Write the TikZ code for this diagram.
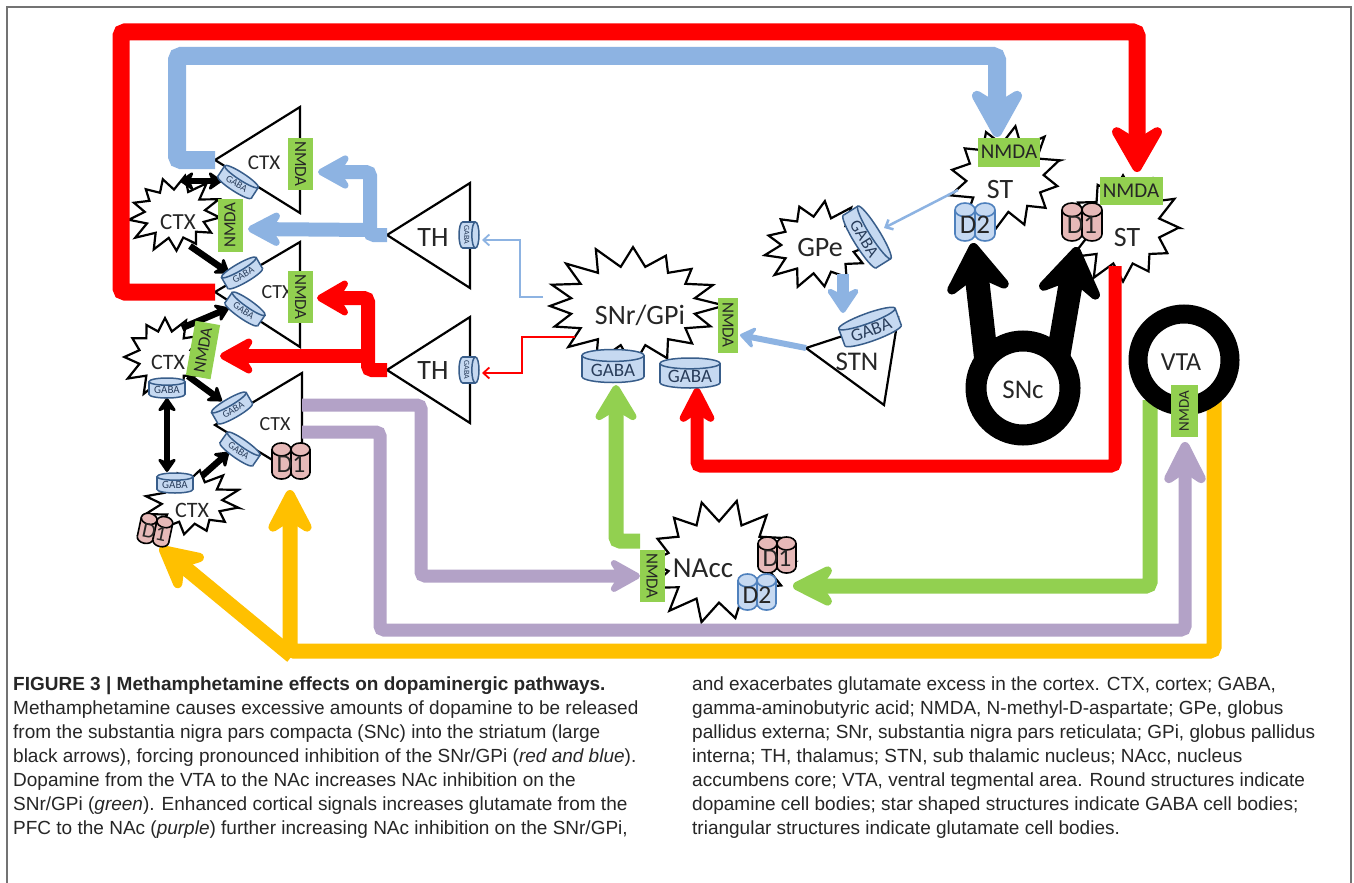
\documentclass[tikz,border=0pt]{standalone}
\usepackage{fontspec}
\setmainfont{Carlito}
\newfontfamily\capfont{Liberation Sans}
\usepackage{graphicx}
\usetikzlibrary{arrows.meta}
\definecolor{cred}{RGB}{255,0,0}
\definecolor{cblue}{RGB}{141,179,226}
\definecolor{cgreen}{RGB}{146,208,80}
\definecolor{cpurple}{RGB}{179,162,199}
\definecolor{cyellow}{RGB}{255,192,0}
\definecolor{gabafill}{RGB}{198,217,241}
\definecolor{gabadraw}{RGB}{56,93,138}
\definecolor{gabatext}{RGB}{40,60,90}
\definecolor{d1fill}{RGB}{230,185,184}
\definecolor{d2draw}{RGB}{79,129,189}
\tikzset{
 lbl/.style={text=black!85, inner sep=0pt, font=\fontsize{#1}{#1}\selectfont},
 tri/.style={draw=black, line width=2.2pt, fill=white, line join=miter},
 burstline/.style={draw=black, line width=2.2pt, fill=white, line join=miter, miter limit=20},
 nmda/.style={fill=cgreen, inner sep=0pt, text=black!85, font=\fontsize{#1}{#1}\selectfont},
 conn/.style={line width=#1, rounded corners=4pt},
 ahd/.style n args={3}{-{Stealth[length=#1pt,width=#2pt,inset=#3pt,round]}},
 ahdtwo/.style n args={3}{{Stealth[length=#1pt,width=#2pt,inset=#3pt,round]}-{Stealth[length=#1pt,width=#2pt,inset=#3pt,round]}},
 thinhead/.style={-{Straight Barb[length=6pt,width=11pt]}},
 cylG/.style={gabadraw, fill=gabafill},
 cylDtwo/.style={d2draw, fill=gabafill},
 cylDone/.style={black, fill=d1fill},
 captxt/.style={anchor=base west, inner sep=0pt, font=\capfont\fontsize{19}{19}\selectfont, text=black!85},
}
% star burst: cx cy rx ry n ratio phase
\newcommand\burst[7]{%
 \pgfmathtruncatemacro\bN{2*#5}%
 \pgfmathtruncatemacro\bS{2*#5+1}%
 \draw[burstline] plot[domain=0:\bN, samples=\bS, variable=\k]
   ({#1+#3*(1-(1-#6)*mod(round(\k),2))*(1+0.08*(1-mod(round(\k),2))*sin(\k*151))*cos(\k*180/#5+#7)},
    {#2+#4*(1-(1-#6)*mod(round(\k),2))*(1+0.08*(1-mod(round(\k),2))*sin(\k*151))*sin(\k*180/#5+#7)}) -- cycle;%
}
% cylinder: cx cy w h style
\newcommand\cylshape[5]{%
 \pgfmathsetmacro\cw{#3/2}\pgfmathsetmacro\ch{#4/2}\pgfmathsetmacro\ce{#4*0.18}%
 \pgfmathsetmacro\ctop{#2-\ch+\ce}\pgfmathsetmacro\cbot{#2+\ch-\ce}%
 \pgfmathsetmacro\cl{#1-\cw}\pgfmathsetmacro\cri{#1+\cw}%
 \filldraw[#5] (#1,\cbot) ellipse[x radius=\cw, y radius=\ce];
 \fill[#5] (\cl,\ctop) rectangle (\cri,\cbot);
 \draw[#5] (\cl,\ctop) -- (\cl,\cbot) (\cri,\ctop) -- (\cri,\cbot);
 \filldraw[#5] (#1,\ctop) ellipse[x radius=\cw, y radius=\ce];
}
% GABA: name x y angle w h fontsize
\newcommand\gaba[7]{%
 \begin{scope}[shift={(#2,#3)}, rotate=#4, line width=1.5pt]
 \cylshape{0}{0}{#5}{#6}{cylG}
 \pgfmathsetmacro\gofs{#6*0.12}
 \node[rotate=#4, text=gabatext, inner sep=0pt, font=\fontsize{#7}{#7}\selectfont] (#1) at (0,\gofs) {GABA};
 \end{scope}}
% dimer receptor: name x y angle scale style text
\newcommand\dimer[7]{%
 \begin{scope}[shift={(#2,#3)}, rotate=#4, scale=#5, line width=1.6pt]
 \cylshape{-10}{0}{20}{38}{#6}
 \cylshape{10}{0}{20}{38}{#6}
 \pgfmathsetmacro\dfs{27*#5}
 \node[rotate=#4, text=black!85, inner sep=0pt, font=\fontsize{\dfs}{\dfs}\selectfont] (#1) at (0,3) {#7};
 \end{scope}}
\begin{document}
\begin{tikzpicture}[x=1pt,y=-1pt]
\useasboundingbox (0,0) rectangle (1354,883);
\fill[white] (0,0) rectangle (1354,883);
\draw[line width=1.3pt, black!55] (7,883) -- (7,7) -- (1351,7) -- (1351,883);

% triangles (glutamate cells)
\draw[tri] (215,160) -- (300,107) -- (300,213) -- cycle;
\draw[tri] (215,292) -- (300,242) -- (300,347) -- cycle;
\draw[tri] (215,425) -- (302,373) -- (302,478) -- cycle;
\draw[tri] (387,235) -- (470,183) -- (470,288) -- cycle;
\draw[tri] (387,370) -- (470,317) -- (470,423) -- cycle;
\draw[tri] (806,348) -- (898,318) -- (884,405) -- cycle;

% stars (GABA cells)
\burst{175}{214}{46}{37}{13}{0.66}{5}
\burst{165}{357}{40}{40}{12}{0.66}{0}
\burst{192}{502}{46}{33}{12}{0.66}{10}
\burst{633}{306}{90}{57}{16}{0.7}{0}
\burst{1005}{178}{57}{50}{12}{0.68}{340}
\burst{1123}{228}{55}{54}{12}{0.68}{0}
\burst{818}{245}{54}{42}{13}{0.68}{0}
\burst{719}{562}{74}{58}{14}{0.7}{0}

% connectors
\draw[cred, conn=17pt, ahd={58}{66}{20}] (215,292) -- (121,292) -- (121,32) -- (1137,32) -- (1137,172);
\draw[cblue, conn=18pt, ahd={60}{66}{20}] (215,160) -- (177,160) -- (177,56) -- (997,56) -- (997,137);
\draw[cblue, conn=14pt, ahd={40}{44}{14}] (387,235) -- (370,235) -- (370,172) -- (318,172);
\draw[cblue, conn=14pt, ahd={42}{44}{14}] (370,230) -- (248,229);
\draw[cred, conn=14pt, ahd={40}{46}{14}] (387,370) -- (368,370) -- (368,298) -- (317,298);
\draw[cred, conn=14pt, ahd={42}{46}{14}] (368,356) -- (220,356);
\draw[cblue, line width=1.8pt, thinhead] (543,297) -- (520,297) -- (520,240) -- (482,240);
\draw[cred, line width=1.8pt, thinhead] (575,337) -- (522,337) -- (522,373) -- (482,373);
\draw[cblue, line width=2.5pt, thinhead] (958,190) -- (884,228);
\draw[cblue, line width=12pt, ahd={30}{40}{10}] (843,274) -- (843,313);
\draw[cblue, line width=6pt, ahd={18}{26}{6}] (806,348) -- (740,335);
\draw[black, line width=24pt, ahd={62}{82}{24}] (988,375) -- (973,243);
\draw[black, line width=24pt, ahd={62}{82}{24}] (1055,375) -- (1077,247);
\draw[cred, conn=13pt, ahd={45}{46}{15}] (1115,266) -- (1115,466) -- (697,466) -- (697,388);
\draw[cgreen, conn=15pt, ahd={52}{52}{17}] (1150,400) -- (1150,586) -- (793,586);
\draw[cgreen, conn=15pt, ahd={45}{54}{16}] (640,541) -- (616,541) -- (616,385);
\draw[cpurple, conn=13pt, ahd={38}{42}{13}] (302,405) -- (421,405) -- (421,576) -- (640,576);
\draw[cpurple, conn=13pt, ahd={55}{55}{18}] (302,432) -- (380,432) -- (380,630) -- (1185,630) -- (1185,442);
\draw[cyellow, conn=15pt, ahd={55}{57}{18}] (1214,400) -- (1214,651) -- (290,651) -- (290,490);
\draw[cyellow, line width=15pt, ahd={55}{57}{18}] (292,656) -- (160,547);
% black CTX arrows
\draw[black, line width=6.5pt, ahdtwo={16}{22}{5}] (180,181) -- (222,181);
\draw[black, line width=6.5pt, ahd={16}{22}{5}] (190,246) -- (229,273);
\draw[black, line width=6.5pt, ahd={16}{22}{5}] (182,328) -- (229,308);
\draw[black, line width=6.5pt, ahd={16}{22}{5}] (188,376) -- (222,401);
\draw[black, line width=6.5pt, ahdtwo={16}{22}{5}] (167,398) -- (167,472);
\draw[black, line width=6.5pt, ahd={16}{22}{5}] (202,476) -- (229,452);

% dopamine rings
\draw[line width=21pt, fill=white] (1023,388) circle[radius=47];
\draw[line width=19pt, fill=white] (1184,360) circle[radius=46];

% labels
\node[lbl=21] (ctxA) at (264,163) {CTX};
\node[lbl=20] (ctxB) at (277,292) {CTX};
\node[lbl=20] (ctxC) at (275,424) {CTX};
\node[lbl=28] (thA) at (433,238) {TH};
\node[lbl=28] (thB) at (433,371) {TH};
\node[lbl=27] (stn) at (857,362) {STN};
\node[lbl=23] (ctxS1) at (178,222) {CTX};
\node[lbl=22] (ctxS2) at (168,362) {CTX};
\node[lbl=22] (ctxS3) at (192,510) {CTX};
\node[lbl=28] (snr) at (640,315) {SNr/GPi};
\node[lbl=28] (stA) at (1000,190) {ST};
\node[lbl=28] (stB) at (1127,238) {ST};
\node[lbl=28] (gpe) at (820,248) {GPe};
\node[lbl=29] (nacc) at (703,568) {NAcc};
\node[lbl=27] (snc) at (1023,390) {SNc};
\node[lbl=26] (vta) at (1181,362) {VTA};

% NMDA receptors
\node[nmda=17, rotate=-90, minimum width=52pt, minimum height=25pt] (nT1) at (300.5,164) {NMDA};
\node[nmda=17, rotate=90, minimum width=53pt, minimum height=25pt] (nS1) at (230,225) {NMDA};
\node[nmda=17, rotate=-90, minimum width=52pt, minimum height=25pt] (nT2) at (300.5,297) {NMDA};
\node[nmda=17, rotate=80, minimum width=55pt, minimum height=25pt] (nS2) at (203,350) {NMDA};
\node[nmda=17, rotate=-90, minimum width=55pt, minimum height=20pt] (nSNr) at (728,325) {NMDA};
\node[nmda=21, minimum width=62pt, minimum height=29pt] (nST1) at (1009,152) {NMDA};
\node[nmda=21, minimum width=63pt, minimum height=28pt] (nST2) at (1131,191) {NMDA};
\node[nmda=15, rotate=90, minimum width=52pt, minimum height=27pt] (nVTA) at (1184,411) {NMDA};
\node[nmda=17, rotate=-90, minimum width=52pt, minimum height=25pt] (nNAcc) at (652,576) {NMDA};

% GABA receptors
\gaba{gT1}{238}{182}{-33}{40}{20}{10}
\gaba{gT2a}{242}{273}{30}{40}{20}{10}
\gaba{gT2b}{245}{309}{-35}{40}{20}{10}
\gaba{gT3a}{232}{408}{30}{40}{20}{10}
\gaba{gT3b}{240}{449}{-35}{40}{20}{10}
\gaba{gS2}{167}{388}{0}{36}{20}{11}
\gaba{gS3}{175}{483}{0}{36}{20}{11}
\gaba{gTH1}{469}{235}{-90}{26}{20}{8}
\gaba{gTH2}{469}{370}{-90}{26}{20}{8}
\gaba{gSNr1}{613}{366}{0}{62}{33}{19}
\gaba{gSNr2}{690}{373}{0}{60}{30}{19}
\gaba{gGPe}{867}{237}{-58}{62}{27}{17}
\gaba{gSTN}{870}{327}{20}{60}{28}{18}

% dopamine receptors
\dimer{dST1}{975}{222}{0}{1}{cylDtwo}{D2}
\dimer{dST2}{1082}{222}{0}{1}{cylDone}{D1}
\dimer{dT3}{291}{461}{0}{0.95}{cylDone}{D1}
\dimer{dS3}{155}{530}{-12}{0.8}{cylDone}{D1}
\dimer{dNA1}{777}{555}{0}{0.95}{cylDone}{D1}
\dimer{dNA2}{757}{592}{0}{0.95}{cylDtwo}{D2}

% caption
\node[captxt] (cl1) at (13,690) {\bfseries FIGURE 3 | Methamphetamine effects on dopaminergic pathways.};
\node[captxt] (cl2) at (13,714) {Methamphetamine causes excessive amounts of dopamine to be released};
\node[captxt] (cl3) at (13,738) {from the substantia nigra pars compacta (SNc) into the striatum (large};
\node[captxt] (cl4) at (13,762) {black arrows), forcing pronounced inhibition of the SNr/GPi (\textit{red and blue}).};
\node[captxt] (cl5) at (13,786) {Dopamine from the VTA to the NAc increases NAc inhibition on the};
\node[captxt] (cl6) at (13,810) {SNr/GPi (\textit{green}). Enhanced cortical signals increases glutamate from the};
\node[captxt] (cl7) at (13,834) {PFC to the NAc (\textit{purple}) further increasing NAc inhibition on the SNr/GPi,};
\node[captxt] (cr1) at (692,690) {and exacerbates glutamate excess in the cortex. CTX, cortex; GABA,};
\node[captxt] (cr2) at (692,714) {gamma-aminobutyric acid; NMDA, N-methyl-D-aspartate; GPe, globus};
\node[captxt] (cr3) at (692,738) {pallidus externa; SNr, substantia nigra pars reticulata; GPi, globus pallidus};
\node[captxt] (cr4) at (692,762) {interna; TH, thalamus; STN, sub thalamic nucleus; NAcc, nucleus};
\node[captxt] (cr5) at (692,786) {accumbens core; VTA, ventral tegmental area. Round structures indicate};
\node[captxt] (cr6) at (692,810) {dopamine cell bodies; star shaped structures indicate GABA cell bodies;};
\node[captxt] (cr7) at (692,834) {triangular structures indicate glutamate cell bodies.};
\end{tikzpicture}
\end{document}
